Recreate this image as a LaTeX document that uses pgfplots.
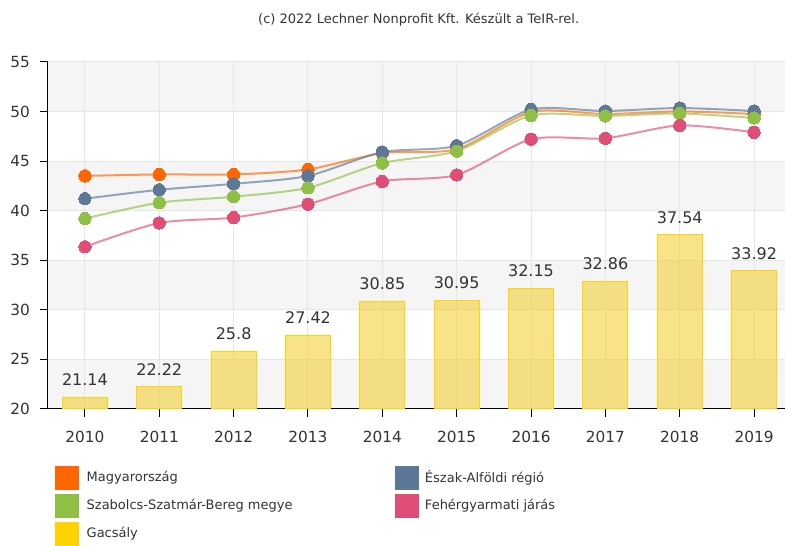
\documentclass[border=0pt]{standalone}
\usepackage{pgfplots}
\pgfplotsset{compat=1.18}
\usepackage{fontspec}
\setmainfont{DejaVu Sans}
\definecolor{cOr}{HTML}{FF6600}
\definecolor{cBl}{HTML}{5C7896}
\definecolor{cGr}{HTML}{8FC045}
\definecolor{cPk}{HTML}{E04E78}
\definecolor{cGo}{HTML}{FFD200}
\definecolor{barc}{HTML}{F4D038}
\definecolor{baredge}{HTML}{FFD400}
\definecolor{gridc}{HTML}{E6E6E6}
\definecolor{bandc}{HTML}{F5F5F5}
\definecolor{textc}{HTML}{333333}
\begin{document}
\begin{tikzpicture}
\begin{scope}[x=0.75pt,y=-0.75pt]
\useasboundingbox (0,0) rectangle (785,541);
\end{scope}
\begin{axis}[
  set layers,
  at={(36pt,-306.75pt)}, anchor=south west,
  scale only axis, width=552.75pt, height=260.25pt,
  xmin=2009.503, xmax=2019.409, ymin=20, ymax=55,
  axis x line*=bottom, axis y line*=left,
  axis line style={black, line width=0.75pt, -},
  xtick={2010,2011,2012,2013,2014,2015,2016,2017,2018,2019},
  xticklabels={2010,2011,2012,2013,2014,2015,2016,2017,2018,2019},
  ytick={20,25,30,35,40,45,50,55},
  tick align=outside, major tick length=6pt,
  tick style={black, line width=0.75pt},
  grid=major, major grid style={draw=gridc, line width=0.75pt},
  ticklabel style={font=\fontsize{11.5}{13}\selectfont, text=textc},
  xticklabel style={yshift=-7.5pt},
  yticklabel style={xshift=-4pt},
  /pgf/number format/assume math mode=true,
  clip=true,
]
\begin{pgfonlayer}{axis background}
\fill[bandc] (axis cs:2009.503,20) rectangle (axis cs:2019.409,25);
\fill[bandc] (axis cs:2009.503,30) rectangle (axis cs:2019.409,35);
\fill[bandc] (axis cs:2009.503,40) rectangle (axis cs:2019.409,45);
\fill[bandc] (axis cs:2009.503,50) rectangle (axis cs:2019.409,55);
\end{pgfonlayer}
% Gacsaly bars
\addplot[ybar, bar width=33.75pt, fill=barc, fill opacity=0.6, draw=baredge, line width=0.75pt,
  nodes near coords,
  every node near coord/.append style={font=\fontsize{12}{14}\selectfont, text=textc, text opacity=1, anchor=base, yshift=8.8pt},
  /pgf/number format/assume math mode=true]
 coordinates {(2010,21.14) (2011,22.22) (2012,25.8) (2013,27.42) (2014,30.85) (2015,30.95) (2016,32.15) (2017,32.86) (2018,37.54) (2019,33.92)};
% Magyarorszag
\addplot[smooth, tension=0.45, draw=cOr, line width=1.5pt, draw opacity=0.65, mark=*, mark size=4.6pt,
  mark options={fill=cOr, draw=cOr, draw opacity=1, line width=0pt}]
 coordinates {(2010,43.5) (2011,43.65) (2012,43.65) (2013,44.15) (2014,45.8) (2015,46.2) (2016,49.95) (2017,49.75) (2018,50.0) (2019,49.75)};
% Eszak-Alfold
\addplot[smooth, tension=0.45, draw=cBl, line width=1.5pt, draw opacity=0.65, mark=*, mark size=4.6pt,
  mark options={fill=cBl, draw=cBl, draw opacity=1, line width=0pt}]
 coordinates {(2010,41.2) (2011,42.1) (2012,42.7) (2013,43.5) (2014,45.9) (2015,46.55) (2016,50.2) (2017,50.05) (2018,50.35) (2019,50.05)};
% Szabolcs
\addplot[smooth, tension=0.45, draw=cGr, line width=1.5pt, draw opacity=0.65, mark=*, mark size=4.6pt,
  mark options={fill=cGr, draw=cGr, draw opacity=1, line width=0pt}]
 coordinates {(2010,39.2) (2011,40.8) (2012,41.4) (2013,42.3) (2014,44.8) (2015,46.0) (2016,49.6) (2017,49.55) (2018,49.8) (2019,49.35)};
% Fehergyarmati
\addplot[smooth, tension=0.45, draw=cPk, line width=1.5pt, draw opacity=0.65, mark=*, mark size=4.6pt,
  mark options={fill=cPk, draw=cPk, draw opacity=1, line width=0pt}]
 coordinates {(2010,36.35) (2011,38.75) (2012,39.3) (2013,40.65) (2014,42.95) (2015,43.6) (2016,47.2) (2017,47.3) (2018,48.6) (2019,47.9)};
\end{axis}
\begin{scope}[x=0.75pt,y=-0.75pt]
\node[font=\fontsize{9.75}{11}\selectfont, text=textc] at (419,20) {(c) 2022 Lechner Nonprofit Kft. Készült a TeIR-rel.};
\tikzset{lg/.style={font=\fontsize{9.75}{11}\selectfont, text=textc, anchor=west, inner sep=0pt}}
\fill[cOr] (55,466) rectangle (79,490);
\node[lg] at (86.5,478) {Magyarország};
\fill[cGr] (55,494) rectangle (79,518);
\node[lg] at (86.5,506) {Szabolcs-Szatmár-Bereg megye};
\fill[cGo] (55,522) rectangle (79,546);
\node[lg] at (86.5,534) {Gacsály};
\fill[cBl] (395,466) rectangle (419,490);
\node[lg] at (425,478) {Észak-Alföldi régió};
\fill[cPk] (395,494) rectangle (419,518);
\node[lg] at (425,506) {Fehérgyarmati járás};
\end{scope}
\end{tikzpicture}
\end{document}
